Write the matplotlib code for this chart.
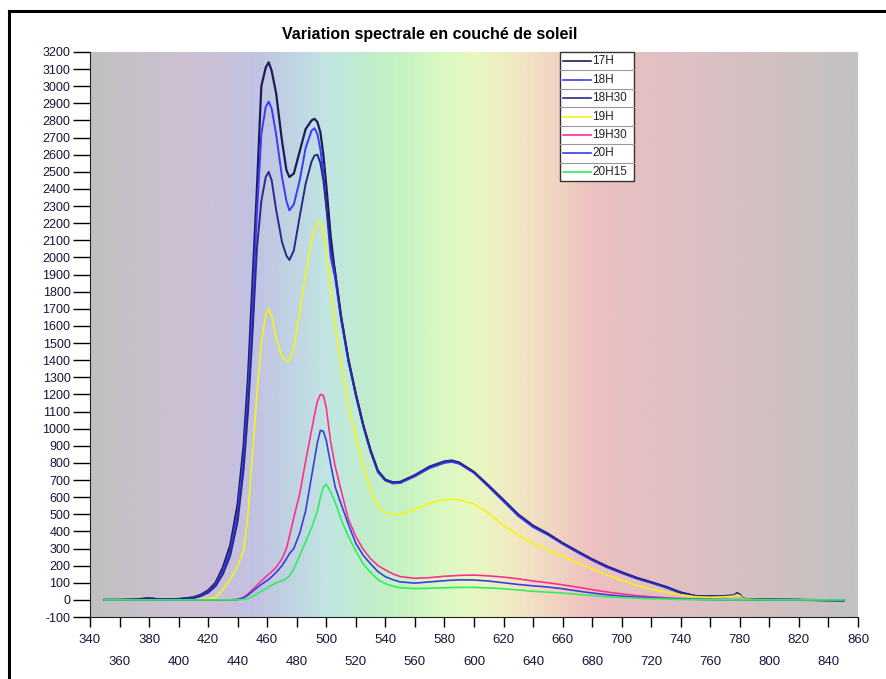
import numpy as np
import matplotlib
matplotlib.use("Agg")
import matplotlib.pyplot as plt
from matplotlib.colors import LinearSegmentedColormap
from matplotlib.lines import Line2D

plt.rcParams['font.family'] = ['Liberation Sans', 'DejaVu Sans']
plt.rcParams['axes.unicode_minus'] = False

# wavelength grid (nm)
wl = [350, 360, 370, 380, 385, 390, 400,
      410, 415, 420, 425, 430, 435, 440,
      444, 447, 450, 453, 456, 459, 461, 463, 466,
      470, 473, 475, 478, 482, 486, 490, 492, 494, 496, 498,
      500, 503, 506, 510, 515, 520, 525, 530, 535, 540, 545,
      550, 560, 570, 580, 585, 590, 600,
      610, 620, 630, 640, 650, 660, 670, 680, 690, 700,
      710, 720, 730, 740, 750, 760, 770, 776, 778, 780, 782,
      790, 800, 820, 850]

h17 = [0, 0, 2, 10, 5, 3, 5,
       15, 30, 55, 100, 190, 320, 560,
       900, 1300, 1850, 2400, 3000, 3110, 3140, 3090, 2960,
       2680, 2510, 2470, 2490, 2620, 2750, 2800, 2810, 2790, 2730, 2600,
       2420, 2120, 1900, 1650, 1400, 1200, 1020, 870, 750, 700, 684,
       685, 725, 775, 805, 812, 800, 745,
       665, 580, 495, 430, 385, 330, 282, 235, 194, 160,
       128, 102, 75, 42, 22, 20, 22, 25, 38, 30, 6,
       3, 2, 0, -3]

h18 = [0, 0, 2, 8, 5, 3, 5,
       12, 25, 48, 90, 170, 290, 510,
       830, 1200, 1700, 2250, 2720, 2880, 2910, 2870, 2720,
       2470, 2330, 2275, 2310, 2450, 2640, 2740, 2755, 2720, 2630, 2490,
       2300, 2000, 1880, 1640, 1390, 1195, 1015, 865, 745, 697, 680,
       683, 722, 770, 800, 806, 795, 742,
       660, 575, 490, 425, 380, 327, 278, 232, 190, 157,
       125, 100, 72, 40, 21, 19, 21, 24, 36, 28, 5,
       3, 2, 0, -3]

h18h30 = [0, 0, 2, 8, 5, 3, 4,
          10, 22, 42, 80, 150, 260, 460,
          760, 1100, 1550, 2050, 2330, 2470, 2500, 2450, 2280,
          2090, 2010, 1985, 2040, 2240, 2430, 2560, 2595, 2600, 2550, 2450,
          2300, 2060, 1920, 1660, 1405, 1205, 1025, 875, 755, 703, 688,
          690, 730, 780, 810, 815, 803, 748,
          668, 585, 500, 435, 388, 333, 285, 238, 197, 162,
          130, 104, 77, 44, 23, 21, 23, 26, 40, 32, 7,
          3, 2, 0, -3]

h19 = [0, 0, 0, 0, 0, 0, 0,
       0, 2, 5, 15, 60, 120, 200,
       290, 500, 850, 1200, 1500, 1670, 1700, 1660, 1530,
       1420, 1395, 1400, 1470, 1680, 1900, 2090, 2160, 2200, 2205, 2150,
       2020, 1820, 1600, 1380, 1130, 950, 780, 640, 545, 510, 497,
       498, 528, 565, 585, 588, 584, 560,
       505, 435, 375, 330, 290, 255, 218, 180, 145, 115,
       85, 62, 45, 30, 18, 15, 18, 22, 30, 25, 5,
       2, 1, 0, -2]

h19h30 = [0, 0, 0, 0, 0, 0, 0,
          0, 0, 0, 0, 0, 0, 3,
          15, 35, 60, 85, 110, 135, 150, 165, 190,
          240, 300, 370, 480, 620, 810, 990, 1080, 1160, 1200, 1195,
          1120, 920, 780, 640, 470, 370, 295, 240, 200, 175, 152,
          136, 126, 130, 138, 140, 143, 145,
          140, 133, 123, 110, 100, 88, 74, 60, 46, 35,
          25, 18, 12, 8, 5, 3, 2, 1, 1, 1, 0,
          0, 0, 0, 0]

h20 = [0, 0, 0, 0, 0, 0, 0,
       0, 0, 0, 0, 0, 0, 2,
       12, 28, 50, 70, 90, 108, 120, 135, 160,
       200, 240, 270, 300, 390, 520, 720, 820, 920, 990, 985,
       930, 790, 660, 560, 440, 330, 260, 210, 165, 135, 118,
       105, 98, 105, 112, 115, 117, 116,
       110, 100, 90, 82, 75, 65, 52, 40, 30, 22,
       16, 12, 8, 5, 3, 2, 1, 1, 1, 1, 0,
       0, 0, 0, 0]

h20h15 = [0, 0, 0, 0, 0, 0, 0,
          0, 0, 0, 0, 0, 0, 0,
          3, 8, 20, 35, 50, 65, 75, 85, 100,
          112, 125, 140, 180, 260, 340, 420, 470, 520, 600, 660,
          675, 630, 570, 470, 370, 285, 210, 160, 118, 95, 80,
          70, 66, 68, 71, 72, 73, 73,
          70, 65, 58, 50, 45, 40, 32, 25, 18, 14,
          10, 7, 5, 3, 2, 1, 1, 0, 0, 0, 0,
          0, 0, 0, 0]

labels = ["17H", "18H", "18H30", "19H", "19H30", "20H", "20H15"]
series = [h17, h18, h18h30, h19, h19h30, h20, h20h15]
colors = ["#1c1c58", "#3a3aff", "#2a2a8a", "#f4f41a", "#ff3090", "#3c3ce0", "#30ee60"]
widths = [1.6, 1.4, 1.4, 1.2, 1.2, 1.2, 1.2]

# spectrum-like background
bg_stops = [(340, '#c0c0c0'), (400, '#cdc0d2'), (430, '#c9c0da'), (450, '#c0c2e2'),
            (480, '#c0d6e2'), (500, '#c0e6e2'), (525, '#c0eccf'), (550, '#c6f2c2'),
            (575, '#d8f8c2'), (600, '#e8f8c2'), (630, '#f2e8c2'), (658, '#f0d2c2'),
            (678, '#efc0c0'), (700, '#e8c0c2'), (753, '#dcc0c4'), (810, '#cfc0c0'),
            (860, '#c2c2c2')]

xmin, xmax = 340, 860
ymin, ymax = -100, 3200

fig = plt.figure(figsize=(8.87, 6.79), dpi=100)
ax = fig.add_axes([90 / 887, 1 - 617 / 679, 768 / 887, 565 / 679])

cmap = LinearSegmentedColormap.from_list(
    "spec", [((w - xmin) / (xmax - xmin), c) for w, c in bg_stops])
ax.imshow(np.linspace(0, 1, 600)[None, :], cmap=cmap, aspect='auto',
          extent=[xmin, xmax, ymin, ymax], zorder=0, interpolation='bilinear')

for vals, col, lw in zip(series, colors, widths):
    ax.plot(wl, vals, color=col, lw=lw, zorder=2)

ax.set_xlim(xmin, xmax)
ax.set_ylim(ymin, ymax)

ax.set_yticks(range(-100, 3201, 100))
ax.set_xticks(range(340, 861, 40))
ax.set_xticks(range(360, 841, 40), labels=[str(v) for v in range(360, 841, 40)], minor=True)
ax.tick_params(axis='y', direction='out', length=12, width=1, pad=2, labelsize=9,
               labelcolor='#15153a')
ax.tick_params(axis='x', which='both', direction='out', length=7, width=1, labelsize=9.5,
               labelcolor='#15153a')
ax.tick_params(axis='x', which='major', pad=5)
ax.tick_params(axis='x', which='minor', pad=21)

for s in ['top', 'right']:
    ax.spines[s].set_visible(False)
for s in ['left', 'bottom']:
    ax.spines[s].set_color('#222222')

fig.text(430 / 887, 1 - 35 / 679, "Variation spectrale en couché de soleil",
         ha='center', va='center', fontsize=11.5, fontweight='bold')

# outer frame (clipped by the picture edges)
fig.add_artist(Line2D([9.5 / 887, 9.5 / 887], [0, 1 - 11 / 679], color='black', lw=2.2,
                      transform=fig.transFigure))
fig.add_artist(Line2D([9 / 887, 1], [1 - 11 / 679, 1 - 11 / 679], color='black', lw=2.2,
                      transform=fig.transFigure))

# boxed legend with row separators
lx0, lx1 = 560 / 887, 634 / 887
ly0, ly1 = 1 - 52 / 679, 1 - 181 / 679
rh = (ly0 - ly1) / len(labels)
fig.add_artist(plt.Rectangle((lx0, ly1), lx1 - lx0, ly0 - ly1, transform=fig.transFigure,
                             facecolor='white', edgecolor='#333333', lw=1, zorder=5))
for i, (lab, col) in enumerate(zip(labels, colors)):
    ytop = ly0 - i * rh
    yc = ytop - rh / 2
    if i > 0:
        fig.add_artist(Line2D([lx0, lx1], [ytop, ytop], color='#999999', lw=0.8,
                              transform=fig.transFigure, zorder=6))
    fig.add_artist(Line2D([lx0 + 3 / 887, lx0 + 31 / 887], [yc, yc], color=col, lw=1.2,
                          transform=fig.transFigure, zorder=6))
    fig.text(lx0 + 32 / 887, yc, lab, fontsize=8.5, va='center', ha='left',
             color='#222222', zorder=7)

fig.savefig("out.png", dpi=100)
